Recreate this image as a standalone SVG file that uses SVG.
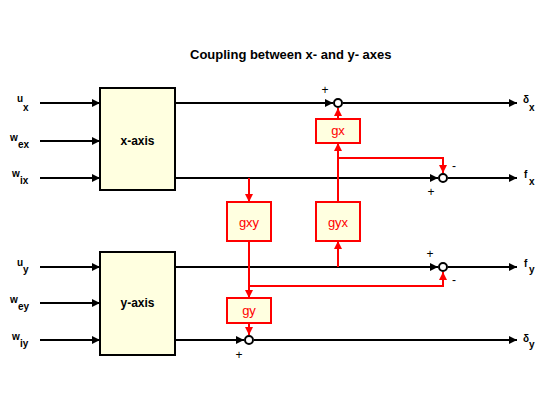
<svg xmlns="http://www.w3.org/2000/svg" width="560" height="420" viewBox="0 0 560 420">
<style>
  text { font-family: "Liberation Sans", Arial, sans-serif; }
  .title { font-size: 13px; font-weight: bold; fill: #000; }
  .lbl { font-size: 10px; font-weight: bold; fill: #000; }
  .sub { font-size: 10px; font-weight: bold; fill: #000; }
  .box { fill: #ffffe0; stroke: #000; stroke-width: 2; }
  .rbox { fill: #ffffe0; stroke: #ff0000; stroke-width: 2; }
  .boxtxt { font-size: 12px; font-weight: bold; fill: #000; text-anchor: middle; }
  .rtxt { font-size: 13px; fill: #ff0000; text-anchor: middle; }
  .sign { font-size: 12px; fill: #000; text-anchor: middle; }
  .sum { fill: #fff; stroke: #000; stroke-width: 2; }
  .k { stroke: #000; stroke-width: 2; fill: none; }
  .r { stroke: #ff0000; stroke-width: 2; fill: none; }
  .ka { marker-end: url(#ak); }
  .ra { marker-end: url(#ar); }
</style>
<defs>
  <marker id="ak" markerUnits="userSpaceOnUse" markerWidth="8" markerHeight="8" refX="8" refY="4" orient="auto">
    <path d="M0,0 L8,4 L0,8 z" fill="#000"/>
  </marker>
  <marker id="ar" markerUnits="userSpaceOnUse" markerWidth="8" markerHeight="8" refX="8" refY="4" orient="auto">
    <path d="M0,0 L8,4 L0,8 z" fill="#ff0000"/>
  </marker>
</defs>

<rect width="560" height="420" fill="#fff"/>

<text class="title" x="190" y="59">Coupling between x- and y- axes</text>

<g id="connectors">
  <!-- x-axis inputs -->
  <line class="k ka" x1="40" y1="103" x2="100" y2="103"/>
  <line class="k ka" x1="40" y1="141" x2="100" y2="141"/>
  <line class="k ka" x1="40" y1="178" x2="100" y2="178"/>
  <!-- x-axis outputs -->
  <line class="k ka" x1="175" y1="103" x2="333" y2="103"/>
  <line class="k ka" x1="343" y1="103" x2="517" y2="103"/>
  <line class="k ka" x1="175" y1="178" x2="438" y2="178"/>
  <line class="k ka" x1="448" y1="178" x2="517" y2="178"/>
  <!-- y-axis inputs -->
  <line class="k ka" x1="40" y1="267" x2="100" y2="267"/>
  <line class="k ka" x1="40" y1="303" x2="100" y2="303"/>
  <line class="k ka" x1="40" y1="340" x2="100" y2="340"/>
  <!-- y-axis outputs -->
  <line class="k ka" x1="175" y1="267" x2="438" y2="267"/>
  <line class="k ka" x1="448" y1="267" x2="517" y2="267"/>
  <line class="k ka" x1="175" y1="340" x2="244" y2="340"/>
  <line class="k ka" x1="254" y1="340" x2="517" y2="340"/>
  <!-- red coupling paths -->
  <line class="r ra" x1="338" y1="119" x2="338" y2="108"/>
  <line class="r ra" x1="338" y1="202" x2="338" y2="143"/>
  <polyline class="r ra" points="338,158 443,158 443,173"/>
  <line class="r ra" x1="249" y1="178" x2="249" y2="202"/>
  <line class="r ra" x1="249" y1="241" x2="249" y2="298"/>
  <polyline class="r ra" points="249,286 443,286 443,272"/>
  <line class="r ra" x1="338" y1="267" x2="338" y2="241"/>
  <line class="r ra" x1="249" y1="323" x2="249" y2="335"/>
</g>

<g id="x-axis">
  <rect class="box" x="100" y="88" width="75" height="102"/>
  <text class="boxtxt" x="137.5" y="145">x-axis</text>
</g>
<g id="y-axis">
  <rect class="box" x="100" y="252" width="75" height="103"/>
  <text class="boxtxt" x="137.5" y="307">y-axis</text>
</g>
<g id="gx">
  <rect class="rbox" x="316" y="119" width="44" height="24"/>
  <text class="rtxt" x="338" y="135">gx</text>
</g>
<g id="gxy">
  <rect class="rbox" x="227" y="202" width="44" height="39"/>
  <text class="rtxt" x="249" y="227">gxy</text>
</g>
<g id="gyx">
  <rect class="rbox" x="316" y="202" width="44" height="39"/>
  <text class="rtxt" x="338" y="227">gyx</text>
</g>
<g id="gy">
  <rect class="rbox" x="227" y="298" width="44" height="25"/>
  <text class="rtxt" x="249" y="315">gy</text>
</g>

<g id="sum-dx">
  <circle class="sum" cx="338" cy="103" r="4"/>
  <text class="sign" x="325" y="94">+</text>
</g>
<g id="sum-fx">
  <circle class="sum" cx="443" cy="178" r="4"/>
  <text class="sign" x="454" y="170">-</text>
  <text class="sign" x="431" y="196">+</text>
</g>
<g id="sum-fy">
  <circle class="sum" cx="443" cy="267" r="4"/>
  <text class="sign" x="430" y="258">+</text>
  <text class="sign" x="454" y="284">-</text>
</g>
<g id="sum-dy">
  <circle class="sum" cx="249" cy="340" r="4"/>
  <text class="sign" x="239" y="359">+</text>
</g>

<g id="labels">
  <text class="lbl" x="17" y="102">u</text><text class="sub" x="23" y="111">x</text>
  <text class="lbl" x="10" y="141">w</text><text class="sub" x="18" y="148">ex</text>
  <text class="lbl" x="12" y="177">w</text><text class="sub" x="20" y="184">ix</text>
  <text class="lbl" x="17" y="266">u</text><text class="sub" x="23" y="273">y</text>
  <text class="lbl" x="10" y="303">w</text><text class="sub" x="18" y="310">ey</text>
  <text class="lbl" x="12" y="340">w</text><text class="sub" x="20" y="347">iy</text>
  <text class="lbl" x="523" y="103">δ</text><text class="sub" x="529" y="111">x</text>
  <text class="lbl" x="524" y="178">f</text><text class="sub" x="529" y="185">x</text>
  <text class="lbl" x="524" y="267">f</text><text class="sub" x="529" y="273">y</text>
  <text class="lbl" x="523" y="342">δ</text><text class="sub" x="529" y="348">y</text>
</g>
</svg>
